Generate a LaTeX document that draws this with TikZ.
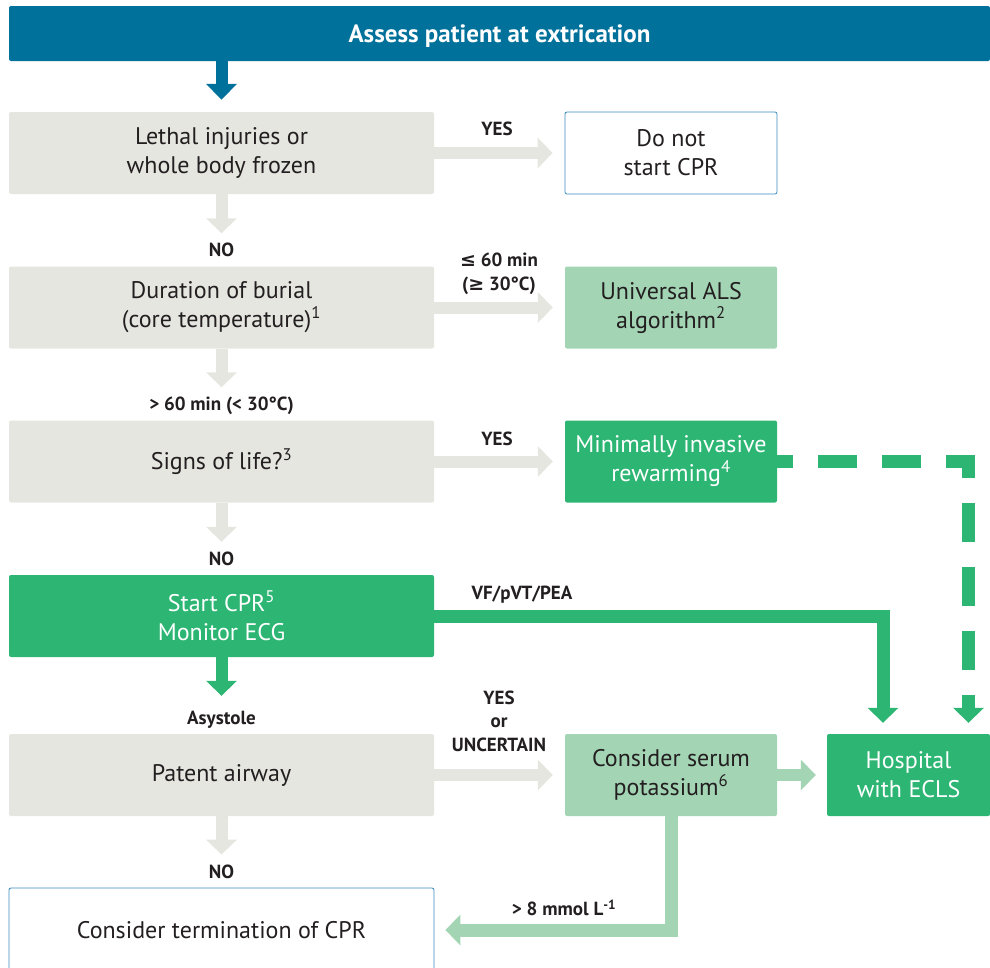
\documentclass[tikz,border=0pt]{standalone}
\usepackage{fontspec}
\setmainfont{PT Sans}
\newfontfamily\relfont{DejaVu Sans}
\usepackage{xcolor}
\usetikzlibrary{arrows.meta}

\definecolor{bannerblue}{HTML}{00719A}
\definecolor{boxgray}{HTML}{E6E6E1}
\definecolor{palegreen}{HTML}{A3D5B5}
\definecolor{ercgreen}{HTML}{2DB673}
\definecolor{frameblue}{HTML}{3A8DBE}
\definecolor{txt}{HTML}{231F20}

\tikzset{
    box/.style = {rectangle, rounded corners = 2pt, inner sep = 0pt, align = center,
        text = txt, font = \fontsize{24}{29}\selectfont,
        minimum width = 425pt, minimum height = 82pt},
    side/.style = {box, minimum width = 212pt},
    lab/.style = {inner sep = 0pt, align = center, text = txt,
        font = \bfseries\fontsize{19}{23.5}\selectfont},
    flow/.style = {line width = 12pt, -{Triangle[width = 30pt, length = 15pt]}},
}

\begin{document}
\begin{tikzpicture}[x = 1pt, y = -1pt]
        \useasboundingbox (0, 0) rectangle (990, 967);

        \node[box, fill = bannerblue, minimum width = 981pt, minimum height = 55pt, text depth = 0pt,
            text = white, font = \bfseries\fontsize{25}{30}\selectfont] (banner) at (499.5, 33.5)
            {Assess patient at extrication};

        \node[box, fill = boxgray] (lethal) at (221.5, 153) {Lethal injuries or\\whole body frozen};
        \node[side, draw = frameblue, line width = 0.8pt, fill = white] (nocpr) at (671, 153) {Do not\\start CPR};
        \node[box, fill = boxgray] (burial) at (221.5, 307.5) {Duration of burial\\(core temperature)\textsuperscript{1}};
        \node[side, fill = palegreen] (als) at (671, 307.5) {Universal ALS\\algorithm\textsuperscript{2}};
        \node[box, fill = boxgray] (life) at (221.5, 461.5) {Signs of life?\textsuperscript{3}};
        \node[side, fill = ercgreen, text = white] (rewarm) at (671, 461.5) {Minimally invasive\\rewarming\textsuperscript{4}};
        \node[box, fill = ercgreen, text = white] (cpr) at (221.5, 616) {Start CPR\textsuperscript{5}\\Monitor ECG};
        \node[box, fill = boxgray] (airway) at (221.5, 775) {Patent airway};
        \node[side, fill = palegreen] (potas) at (671, 775) {Consider serum\\potassium\textsuperscript{6}};
        \node[box, fill = ercgreen, text = white, minimum width = 163pt] (ecls) at (908.5, 775) {Hospital\\with ECLS};
        \node[box, draw = frameblue, line width = 0.8pt, fill = white, minimum height = 84pt] (term) at (221.5, 930)
            {Consider termination of CPR};

        \draw[flow, color = bannerblue, -{Triangle[width = 30pt, length = 16pt]}, shorten > = 12pt]
            (banner.south -| lethal.north) -- (lethal.north);

        \draw[flow, color = boxgray, shorten > = 33pt] (lethal.south) -- (burial.north);
        \draw[flow, color = boxgray, shorten > = 33pt] (burial.south) -- (life.north);
        \draw[flow, color = boxgray, shorten > = 33pt] (life.south) -- (cpr.north);
        \draw[flow, color = ercgreen, shorten > = 38pt] (cpr.south) -- (airway.north);
        \draw[flow, color = boxgray, shorten > = 33pt] (airway.south) -- (term.north);

        \draw[flow, color = boxgray, shorten > = 12pt] (lethal.east) -- (nocpr.west);
        \draw[flow, color = boxgray, shorten > = 12pt] (burial.east) -- (als.west);
        \draw[flow, color = boxgray, shorten > = 12pt] (life.east) -- (rewarm.west);
        \draw[flow, color = boxgray, shorten > = 12pt] (airway.east) -- (potas.west);
        \draw[flow, color = palegreen, shorten > = 11pt] (potas.east) -- (ecls.west);

        \coordinate (vfturn) at (883, 616);
        \coordinate (warmturn) at (968.5, 461.5);
        \draw[flow, color = ercgreen, line width = 13pt, shorten > = 11pt]
            (cpr.east) -- (vfturn) -- (vfturn |- ecls.north);
        \draw[flow, color = ercgreen, line width = 13pt, shorten > = 11pt,
            dash pattern = on 39pt off 25pt, dash phase = 23pt]
            (rewarm.east) -- (warmturn) -- (warmturn |- ecls.north);
        \draw[flow, color = palegreen, line width = 13pt, shorten > = 11pt]
            (potas.south) |- (term.east);

        \node[lab] (yes1) at (497, 129) {YES};
        \node[lab] (no1) at (221.5, 250) {NO};
        \node[lab] (short) at (499, 274) {{\relfont\bfseries ≤} 60 min\\({\relfont\bfseries ≥} 30°C)};
        \node[lab] (long) at (221.5, 406) {> 60 min (< 30°C)};
        \node[lab] (yes2) at (497, 439) {YES};
        \node[lab] (no2) at (221.5, 559) {NO};
        \node[lab] (vf) at (522, 595) {VF/pVT/PEA};
        \node[lab] (asys) at (221.5, 720) {Asystole};
        \node[lab] (yes3) at (499, 721) {YES\\or\\UNCERTAIN};
        \node[lab] (no3) at (221.5, 872) {NO};
        \node[lab] (kal) at (564, 908) {> 8 mmol L\textsuperscript{-1}};
    \end{tikzpicture}
\end{document}
